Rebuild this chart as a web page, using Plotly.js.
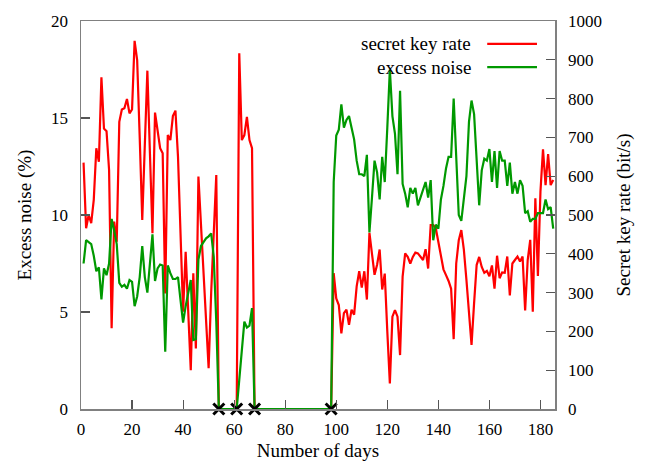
<!DOCTYPE html>
<html>
<head>
<meta charset="utf-8">
<script src="https://cdn.plot.ly/plotly-3.0.1.min.js"></script>
<style>
  body { margin: 0; background: #fff; }
  #chart { width: 654px; height: 474px; }
</style>
</head>
<body>
<div id="chart"></div>
<script>
// measurement days (gaps = no data recorded)
const days = [
    1, 2, 3, 4, 5, 6, 7, 8, 9, 10, 11, 12, 13, 14, 15, 16, 17, 18, 19, 20,
    21, 22, 23, 24, 25, 26, 27, 28, 29, 30, 31, 32, 33, 34, 35, 36, 37, 38, 39, 40,
    41, 42, 43, 44, 45, 46, 47, 48, 49, 50, 51, 52, 53, 54,
    61, 62, 63, 64, 65, 66, 67, 68,
    98, 99, 100, 101, 102, 103, 104, 105, 106, 107, 108, 109, 110, 111, 112, 113, 114, 115,
    116, 117, 118, 119, 120, 121, 122, 123, 124, 125, 126, 127, 128, 129, 130, 131, 132, 133,
    134, 135, 136, 137, 138, 139, 140, 141, 142, 143, 144, 145, 146, 147, 148, 149, 150, 151,
    152, 153, 154, 155, 156, 157, 158, 159, 160, 161, 162, 163, 164, 165, 166, 167, 168, 169,
    170, 171, 172, 173, 174, 175, 176, 177, 178, 179, 180, 181, 182, 183, 184, 185
];

// secret key rate (bit/s)
const keyRate = [
    635, 466, 500, 479, 539, 672, 637, 855, 723, 716, 616, 208, 483, 431, 740, 772, 775, 799, 762, 772,
    949, 899, 700, 487, 680, 872, 660, 453, 764, 710, 672, 659, 298, 706, 693, 755, 769, 650, 450, 251,
    405, 250, 100, 350, 156, 599, 470, 350, 220, 105, 300, 450, 603, 0,
    0, 917, 693, 706, 753, 693, 672, 0,
    0, 350, 285, 268, 195, 247, 256, 217, 256, 243, 316, 355, 313, 355, 282, 454, 403, 346,
    372, 411, 308, 349, 200, 66, 238, 255, 238, 139, 341, 401, 392, 375, 392, 403, 401, 392,
    384, 412, 362, 474, 474, 466, 430, 390, 360, 345, 330, 310, 180, 375, 435, 461, 410, 333,
    247, 165, 273, 371, 392, 366, 351, 356, 342, 370, 310, 395, 337, 352, 351, 393, 293, 375,
    384, 393, 380, 393, 254, 384, 436, 251, 543, 343, 560, 669, 577, 657, 577, 590
];

// excess noise (%)
const excessNoise = [
    7.5, 8.7, 8.6, 8.5, 7.9, 7.1, 7.3, 5.65, 7.25, 6.9, 7.5, 9.8, 9.2, 8.5, 6.5, 6.3, 6.4, 6.2, 6.65, 6.55,
    5.3, 5.8, 6.8, 8.4, 6.8, 6.0, 7.5, 9.0, 6.6, 7.25, 7.45, 7.4, 2.95, 7.4, 7.0, 6.7, 6.7, 6.8, 5.6, 4.45,
    5.3, 6.0, 6.65, 3.56, 3.6, 7.7, 8.4, 8.6, 8.8, 8.9, 9.05, 7.85, 4.5, 0,
    0, 1.5, 3.0, 4.5, 4.2, 4.3, 5.2, 0,
    0, 11.7, 14.1, 14.4, 15.7, 14.5, 14.9, 15.1, 14.5, 13.9, 12.8, 12.1, 12.1, 12.0, 13.1, 9.1, 10.9, 12.8,
    12.2, 10.8, 13.0, 11.7, 14.5, 17.5, 15.1, 14.2, 12.1, 16.4, 11.6, 11.1, 10.4, 11.4, 11.1, 11.4, 10.5, 10.9,
    11.2, 11.7, 10.9, 11.8, 8.7, 9.5, 9.3, 10.8, 11.5, 12.4, 13.0, 13.0, 16.0, 13.0, 10.0, 9.7, 10.8, 12.0,
    14.8, 15.9, 15.2, 12.7, 10.5, 12.3, 12.9, 12.8, 13.4, 11.7, 13.3, 11.4, 13.3, 12.8, 12.8, 11.5, 12.7, 11.1,
    11.7, 11.1, 11.8, 11.5, 10.1, 10.2, 9.65, 9.8, 9.8, 10.1, 10.1, 10.1, 10.8, 10.3, 10.4, 9.3
];

// days marked with a cross (no key)
const crossDays = [54, 61, 68, 98];
const crossValues = [0, 0, 0, 0];

const seriesNames = ["secret key rate", "excess noise"];
const seriesColors = ["#ff0000", "#009900"];

const serif = "'Liberation Serif', 'DejaVu Serif', serif";

const rate_line = {
    name: seriesNames[0],
    x: days,
    y: keyRate,
    yaxis: "y",
    mode: "lines",
    type: "scatter",
    line: { color: seriesColors[0], width: 2.2 },
    showlegend: false,
};

const noise_line = {
    name: seriesNames[1],
    x: days,
    y: excessNoise,
    yaxis: "y2",
    mode: "lines",
    type: "scatter",
    line: { color: seriesColors[1], width: 2.2 },
    showlegend: false,
};

const crosses = {
    name: "no key",
    x: crossDays,
    y: crossValues,
    yaxis: "y2",
    mode: "markers",
    type: "scatter",
    marker: { symbol: "x-thin", size: 11, color: "#000", line: { color: "#000", width: 3 } },
    showlegend: false,
    cliponaxis: false,
};

// hand-made legend: text right-aligned, line sample to the right
const legendRows = [0.941, 0.881];
const annotations = seriesNames.map((name, i) => ({
    xref: "paper", yref: "paper",
    x: 0.827, y: legendRows[i],
    xanchor: "right", yanchor: "middle",
    text: name, showarrow: false,
    font: { family: serif, size: 19, color: "#000" },
}));
const shapes = seriesNames.map((name, i) => ({
    type: "line", xref: "paper", yref: "paper",
    x0: 0.857, x1: 0.962, y0: legendRows[i], y1: legendRows[i],
    line: { color: seriesColors[i], width: 2.2 },
}));

const axisCommon = {
    showgrid: false,
    zeroline: false,
    showline: true,
    linecolor: "#808080",
    linewidth: 1.5,
    ticks: "inside",
    ticklen: 9,
    tickwidth: 1.2,
    tickcolor: "#555",
    tickfont: { family: serif, size: 17, color: "#000" },
};

const layout = {
    width: 654,
    height: 474,
    margin: { l: 81, r: 99, t: 21, b: 65 },
    paper_bgcolor: "#fff",
    plot_bgcolor: "#fff",
    font: { family: serif, color: "#000" },
    xaxis: Object.assign({}, axisCommon, {
        range: [0, 185.7],
        tick0: 0,
        dtick: 20,
        mirror: true,
        ticklabelstandoff: 4,
        title: { text: "Number of days", font: { family: serif, size: 19 }, standoff: 6 },
    }),
    yaxis: Object.assign({}, axisCommon, {
        side: "right",
        range: [0, 1000],
        dtick: 100,
        ticklabelstandoff: 8,
        title: { text: "Secret key rate (bit/s)", font: { family: serif, size: 19 }, standoff: 16 },
    }),
    yaxis2: Object.assign({}, axisCommon, {
        overlaying: "y",
        side: "left",
        range: [0, 20],
        dtick: 5,
        ticklabelstandoff: 8,
        title: { text: "Excess noise (%)", font: { family: serif, size: 19 }, standoff: 14 },
    }),
    annotations: annotations,
    shapes: shapes,
};

Plotly.newPlot("chart", [rate_line, noise_line, crosses], layout, { displayModeBar: false, staticPlot: true });
</script>
</body>
</html>
